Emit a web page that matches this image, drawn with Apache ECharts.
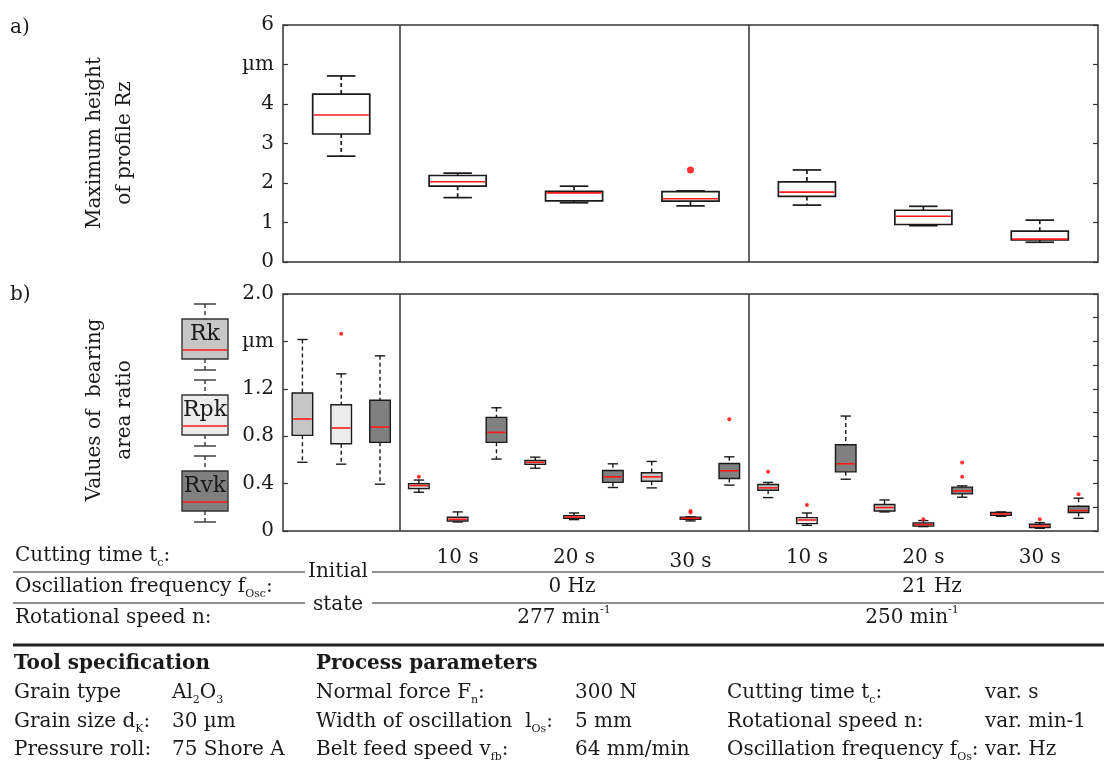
<!DOCTYPE html>
<html>
<head>
<meta charset="utf-8">
<script src="https://cdn.jsdelivr.net/npm/echarts@6/dist/echarts.min.js"></script>
<style>
  html, body { margin: 0; padding: 0; background: #fff; }
  #chart { width: 1104px; height: 767px; }
</style>
</head>
<body>
<div id="chart"></div>
<script>
// a) Rz per group: [low whisker, Q1, median, Q3, high whisker]
const topCats = ['Initial state', '0 Hz 10 s', '0 Hz 20 s', '0 Hz 30 s', '21 Hz 10 s', '21 Hz 20 s', '21 Hz 30 s'];
const topStats = [
  [2.68, 3.24, 3.72, 4.25, 4.71],
  [1.63, 1.92, 2.03, 2.19, 2.25],
  [1.50, 1.55, 1.75, 1.79, 1.92],
  [1.42, 1.54, 1.60, 1.78, 1.80],
  [1.44, 1.66, 1.77, 2.03, 2.33],
  [0.92, 0.95, 1.16, 1.31, 1.41],
  [0.50, 0.56, 0.58, 0.78, 1.06]
];
// [group index, value]
const topOutliers = [[3, 2.33]];

// b) bearing area ratio, one box per group for each parameter
const rkStats = [
  [0.58, 0.807, 0.945, 1.165, 1.616],
  [0.327, 0.358, 0.384, 0.40, 0.43],
  [0.53, 0.562, 0.579, 0.595, 0.623],
  [0.364, 0.42, 0.457, 0.491, 0.587],
  [0.282, 0.344, 0.364, 0.392, 0.41],
  [0.161, 0.169, 0.198, 0.223, 0.262],
  [0.124, 0.133, 0.144, 0.156, 0.161]
];
const rpkStats = [
  [0.564, 0.736, 0.869, 1.066, 1.326],
  [0.076, 0.085, 0.099, 0.116, 0.161],
  [0.096, 0.107, 0.118, 0.13, 0.152],
  [0.085, 0.099, 0.107, 0.116, 0.12],
  [0.048, 0.062, 0.093, 0.113, 0.152],
  [0.037, 0.042, 0.054, 0.068, 0.088],
  [0.023, 0.029, 0.042, 0.057, 0.071]
];
const rvkStats = [
  [0.395, 0.748, 0.877, 1.103, 1.478],
  [0.607, 0.748, 0.832, 0.959, 1.04],
  [0.367, 0.41, 0.457, 0.511, 0.567],
  [0.387, 0.443, 0.508, 0.57, 0.626],
  [0.437, 0.499, 0.567, 0.728, 0.97],
  [0.285, 0.313, 0.338, 0.37, 0.381],
  [0.107, 0.156, 0.173, 0.209, 0.277]
];
// [box index (group * 3 + parameter), value]
const bottomOutliers = [
  [1, 1.664], [3, 0.457], [10, 0.168], [10, 0.156], [11, 0.942],
  [12, 0.499], [13, 0.22], [16, 0.10], [17, 0.579], [17, 0.457],
  [19, 0.10], [20, 0.31]
];
const paramNames = ['Rk', 'Rpk', 'Rvk'];
const paramFills = ['#c6c6c6', '#ececec', '#808080'];

// table labels below the plot
const timeLabels = ['', '10 s', '20 s', '30 s', '10 s', '20 s', '30 s'];
const topDividers = [0.5, 3.5];
const bottomDividers = [2.5, 11.5];

const FONT = '"DejaVu Serif", "Liberation Serif", serif';
const INK = '#1a1a1a';
const RICH = {
  s: { fontSize: 11, lineHeight: 11, verticalAlign: 'bottom', fontFamily: FONT, fill: INK },
  p: { fontSize: 11, lineHeight: 11, verticalAlign: 'top', fontFamily: FONT, fill: INK }
};

const topData = topStats.map((s, i) => [i].concat(s, [0]));
const bottomData = [];
const paramStats = [rkStats, rpkStats, rvkStats];
for (let g = 0; g < 7; g++) {
  for (let k = 0; k < 3; k++) {
    bottomData.push([g * 3 + k].concat(paramStats[k][g], [k]));
  }
}

// box + dashed whiskers + red median
function makeBoxRender(widthRatio, lineW, fills) {
  return function (params, api) {
    const x = api.value(0);
    const lo = api.coord([x, api.value(1)]);
    const q1 = api.coord([x, api.value(2)]);
    const md = api.coord([x, api.value(3)]);
    const q3 = api.coord([x, api.value(4)]);
    const hi = api.coord([x, api.value(5)]);
    const w = api.size([widthRatio, 0])[0];
    const cx = lo[0];
    const cap = w / 4;
    const ink = { stroke: INK, lineWidth: lineW };
    const dash = { stroke: INK, lineWidth: lineW, lineDash: [4, 3] };
    return {
      type: 'group',
      children: [
        { type: 'line', shape: { x1: cx, y1: hi[1], x2: cx, y2: q3[1] }, style: dash },
        { type: 'line', shape: { x1: cx, y1: q1[1], x2: cx, y2: lo[1] }, style: dash },
        { type: 'line', shape: { x1: cx - cap, y1: hi[1], x2: cx + cap, y2: hi[1] }, style: ink },
        { type: 'line', shape: { x1: cx - cap, y1: lo[1], x2: cx + cap, y2: lo[1] }, style: ink },
        { type: 'rect', shape: { x: cx - w / 2, y: q3[1], width: w, height: q1[1] - q3[1] },
          style: { fill: fills[api.value(6)], stroke: INK, lineWidth: lineW } },
        { type: 'line', shape: { x1: cx - w / 2 + 1, y1: md[1], x2: cx + w / 2 - 1, y2: md[1] },
          style: { stroke: '#ff1a1a', lineWidth: 1.6 } }
      ]
    };
  };
}

function txt(x, y, text, opts) {
  opts = opts || {};
  const align = opts.align || 'left';
  return {
    type: 'text', x: x, y: y, rotation: opts.rotation || 0, silent: true,
    style: {
      text: text, fill: INK, fontFamily: FONT, fontSize: opts.size || 20,
      fontWeight: opts.bold ? 'bold' : 'normal', lineHeight: opts.lineHeight || 26,
      align: align, textAlign: align, verticalAlign: 'middle', textVerticalAlign: 'middle',
      rich: RICH
    }
  };
}
function hline(x1, x2, y, w) {
  return { type: 'line', silent: true, shape: { x1: x1, y1: y, x2: x2, y2: y },
    style: { stroke: '#222', lineWidth: w || 1.2 } };
}

// legend boxes on the left of plot b)
function legendBox(name, fill, top) {
  const x0 = 182, w = 46, cx = x0 + w / 2;
  const ink = { stroke: '#333', lineWidth: 1.4 };
  const dash = { stroke: '#333', lineWidth: 1.4, lineDash: [4, 3] };
  return [
    { type: 'line', shape: { x1: cx, y1: top, x2: cx, y2: top + 15 }, style: dash },
    { type: 'line', shape: { x1: cx - 11, y1: top, x2: cx + 11, y2: top }, style: ink },
    { type: 'line', shape: { x1: cx, y1: top + 55, x2: cx, y2: top + 66 }, style: dash },
    { type: 'line', shape: { x1: cx - 11, y1: top + 66, x2: cx + 11, y2: top + 66 }, style: ink },
    { type: 'rect', shape: { x: x0, y: top + 15, width: w, height: 40 }, style: { fill: fill, stroke: '#333', lineWidth: 1.4 } },
    { type: 'line', shape: { x1: x0 + 1, y1: top + 46, x2: x0 + w - 1, y2: top + 46 }, style: { stroke: '#ff1a1a', lineWidth: 1.6 } },
    txt(cx, top + 30, name, { align: 'center', size: 22 })
  ];
}

const graphics = [
  txt(10, 28, 'a)'),
  txt(10, 295, 'b)'),
  txt(110, 143, 'Maximum height\nof profile Rz', { align: 'center', rotation: Math.PI / 2, lineHeight: 30 }),
  txt(110, 410, 'Values of  bearing\narea ratio', { align: 'center', rotation: Math.PI / 2, lineHeight: 30 }),
  // parameter table
  txt(15, 556, 'Cutting time t{s|c}:'),
  txt(15, 587, 'Oscillation frequency f{s|Osc}:'),
  txt(15, 618, 'Rotational speed n:'),
  hline(13, 305, 572), hline(372, 1104, 572),
  hline(13, 305, 603), hline(372, 1104, 603),
  txt(338, 572, 'Initial', { align: 'center' }),
  txt(338, 605, 'state', { align: 'center' }),
  txt(572, 587, '0 Hz', { align: 'center' }),
  txt(932, 587, '21 Hz', { align: 'center' }),
  txt(564, 618, '277 min{p|-1}', { align: 'center' }),
  txt(912, 618, '250 min{p|-1}', { align: 'center' }),
  hline(13, 1104, 645, 3),
  // specification block
  txt(14, 664, 'Tool specification', { bold: true }),
  txt(316, 664, 'Process parameters', { bold: true }),
  txt(14, 693, 'Grain type'), txt(172, 693, 'Al{s|2}O{s|3}'),
  txt(14, 722, 'Grain size d{s|K}:'), txt(172, 722, '30 µm'),
  txt(14, 750, 'Pressure roll:'), txt(172, 750, '75 Shore A'),
  txt(316, 693, 'Normal force F{s|n}:'), txt(575, 693, '300 N'),
  txt(316, 722, 'Width of oscillation  l{s|Os}:'), txt(575, 722, '5 mm'),
  txt(316, 750, 'Belt feed speed v{s|fb}:'), txt(575, 750, '64 mm/min'),
  txt(727, 693, 'Cutting time t{s|c}:'), txt(985, 693, 'var. s'),
  txt(727, 722, 'Rotational speed n:'), txt(985, 722, 'var. min-1'),
  txt(727, 750, 'Oscillation frequency f{s|Os}:'), txt(985, 750, 'var. Hz')
];
paramNames.forEach((n, i) => {
  legendBox(n, paramFills[i], 304 + i * 76).forEach(el => graphics.push(el));
});

function dividerLine(list) {
  return {
    symbol: 'none', silent: true, animation: false,
    label: { show: false },
    lineStyle: { color: '#333', width: 1.5, type: 'solid' },
    data: list.map(v => ({ xAxis: v }))
  };
}

const tickStyle = { show: true, inside: true, length: 5, lineStyle: { color: '#333', width: 1.2 } };
const noLine = { show: false, onZero: false };

const option = {
  animation: false,
  backgroundColor: '#fff',
  textStyle: { fontFamily: FONT },
  grid: [
    { left: 283, right: 6, top: 25, height: 237, show: true, borderColor: '#333', borderWidth: 1.5 },
    { left: 283, right: 6, top: 294, height: 237, show: true, borderColor: '#333', borderWidth: 1.5 }
  ],
  xAxis: [
    { gridIndex: 0, type: 'value', min: -0.5, max: topCats.length - 0.5, show: false, position: 'top' },
    { gridIndex: 1, type: 'value', min: -0.5, max: bottomData.length - 0.5, show: false, position: 'top' },
    {
      gridIndex: 1, type: 'category', data: timeLabels, position: 'bottom',
      axisLine: noLine, axisTick: { show: false }, splitLine: { show: false },
      axisLabel: {
        interval: 0, margin: 17, fontSize: 20, color: INK, fontFamily: FONT,
        formatter: (v, i) => (i === 3 ? '{low|' + v + '}' : v),
        rich: { low: { fontSize: 20, fontFamily: FONT, color: INK, padding: [4, 0, 0, 0] } }
      }
    }
  ],
  yAxis: [
    {
      gridIndex: 0, min: 0, max: 6, interval: 1,
      axisLine: noLine, axisTick: tickStyle, splitLine: { show: false },
      axisLabel: { fontSize: 20, color: INK, margin: 9, fontFamily: FONT, formatter: v => (v === 5 ? 'µm' : String(v)) }
    },
    {
      gridIndex: 0, position: 'right', min: 0, max: 6, interval: 1,
      axisLine: noLine, axisTick: tickStyle, axisLabel: { show: false }, splitLine: { show: false }
    },
    {
      gridIndex: 1, min: 0, max: 2, interval: 0.4,
      axisLine: noLine, axisTick: tickStyle, splitLine: { show: false },
      axisLabel: {
        fontSize: 20, color: INK, margin: 9, fontFamily: FONT,
        formatter: v => (Math.abs(v - 1.6) < 1e-6 ? 'µm' : (v === 0 ? '0' : v.toFixed(1)))
      }
    },
    {
      gridIndex: 1, position: 'right', min: 0, max: 2, interval: 0.2,
      axisLine: noLine, axisTick: tickStyle, axisLabel: { show: false }, splitLine: { show: false }
    }
  ],
  series: [
    {
      type: 'custom', name: 'Rz', xAxisIndex: 0, yAxisIndex: 0,
      data: topData, encode: { x: 0, y: [1, 2, 3, 4, 5] },
      renderItem: makeBoxRender(0.49, 1.7, ['#ffffff'])
    },
    {
      type: 'scatter', name: 'Rz outliers', xAxisIndex: 0, yAxisIndex: 0,
      data: topOutliers, symbolSize: 7, itemStyle: { color: '#ff0000' },
      markLine: dividerLine(topDividers)
    },
    {
      type: 'custom', name: 'bearing', xAxisIndex: 1, yAxisIndex: 2,
      data: bottomData, encode: { x: 0, y: [1, 2, 3, 4, 5] },
      renderItem: makeBoxRender(0.53, 1.4, paramFills)
    },
    {
      type: 'scatter', name: 'bearing outliers', xAxisIndex: 1, yAxisIndex: 2,
      data: bottomOutliers, symbolSize: 4, itemStyle: { color: '#ff0000' },
      markLine: dividerLine(bottomDividers)
    }
  ],
  graphic: graphics
};

const chart = echarts.init(document.getElementById('chart'), null, { renderer: 'canvas' });
chart.setOption(option);
</script>
</body>
</html>
